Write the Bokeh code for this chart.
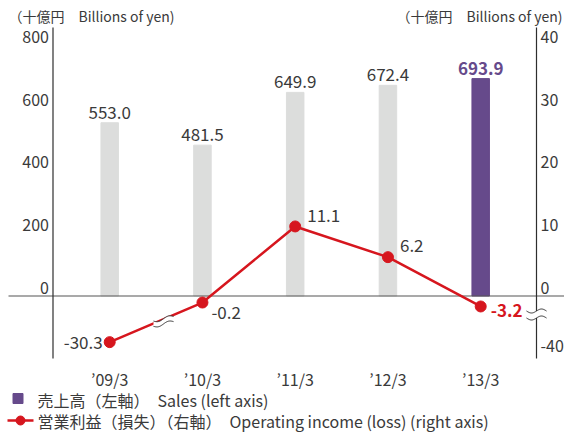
import numpy as np
from bokeh.plotting import figure
from bokeh.models import (Range1d, LinearAxis, FixedTicker, Label, ColumnDataSource)
from bokeh.core.properties import value, field
from bokeh.embed import file_html
from bokeh.resources import INLINE

# ---------------- data ----------------
years = ["’09/3", "’10/3", "’11/3", "’12/3", "’13/3"]
sales = [553.0, 481.5, 649.9, 672.4, 693.9]            # billions of yen (left axis)
op_income = [-30.3, -0.2, 11.1, 6.2, -3.2]             # billions of yen (right axis)
left_ticks = [0, 200, 400, 600, 800]
right_ticks = [-40, 0, 10, 20, 30, 40]
bar_colors = ["#dcdddc", "#dcdddc", "#dcdddc", "#dcdddc", "#664a8b"]
legend_labels = ["売上高（左軸）　Sales (left axis)",
                 "営業利益（損失）（右軸）　Operating income (loss) (right axis)"]
unit_title = "（十億円　Billions of yen)"

# ---------------- style / layout ----------------
FONT = "Noto Sans CJK JP"
TEXT = "#3a3a3a"
RED = "#d6161e"
PURPLE = "#664a8b"
AX = "#2e2e2e"

W, H = 564, 432
S = 0.3133            # px per sales unit
ZERO = 295.5          # zero line, px from top of figure
CAT0, STEP = 109.2, 92.75
RATIO = 20.0          # left units per right unit
LBL_SHIFT_PX = 8.5    # axis labels sit slightly above their values

y0 = -(H - ZERO) / S
y1 = ZERO / S
x0 = -CAT0 / STEP
x1 = (W - CAT0) / STEP


def px2x(px):
    return (px - CAT0) / STEP


def py2y(py):
    return (ZERO - py) / S


def right_disp(v):
    """broken right scale: negatives are compressed below the break"""
    v = np.asarray(v, dtype=float)
    return np.where(v >= 0, v, -(1.0 + 0.21 * np.abs(v)))


p = figure(width=W, height=H, x_range=Range1d(x0, x1), y_range=Range1d(y0, y1),
           output_backend="svg", toolbar_location=None, min_border=0,
           outline_line_color=None, background_fill_color="white")
p.extra_y_ranges = {"right": Range1d(y0 / RATIO, y1 / RATIO)}
p.xgrid.visible = False
p.ygrid.visible = False

X_LEFT = px2x(52.5)
X_RIGHT = px2x(536.0)
AX_TOP = py2y(27)
AX_BOT = py2y(358)

# left axis
sh_l = LBL_SHIFT_PX / S
lt = [t + sh_l for t in left_ticks]
ya = p.yaxis[0]
ya.fixed_location = X_LEFT
ya.ticker = FixedTicker(ticks=lt)
ya.major_label_overrides = {k: str(t) for k, t in zip(lt, left_ticks)}
ya.axis_line_color = None
ya.major_tick_line_color = None
ya.minor_tick_line_color = None
ya.major_tick_out = 0
ya.major_tick_in = 0
ya.major_label_standoff = 4
ya.major_label_text_font = FONT
ya.major_label_text_font_size = "16px"
ya.major_label_text_color = TEXT

# right axis
sh_r = LBL_SHIFT_PX / (S * RATIO)
rt = [float(right_disp(t)) + sh_r for t in right_ticks]
ra = LinearAxis(y_range_name="right", fixed_location=X_RIGHT,
                ticker=FixedTicker(ticks=rt),
                major_label_overrides={k: str(t) for k, t in zip(rt, right_ticks)},
                axis_line_color=None, major_tick_line_color=None,
                minor_tick_line_color=None, major_tick_out=0, major_tick_in=0,
                major_label_standoff=4,
                major_label_text_font=FONT, major_label_text_font_size="16px",
                major_label_text_color=TEXT)
p.add_layout(ra, "right")

# category axis
xa = p.xaxis[0]
xa.fixed_location = py2y(366)
xa.ticker = FixedTicker(ticks=list(range(len(years))))
xa.major_label_overrides = {i: y for i, y in enumerate(years)}
xa.axis_line_color = None
xa.major_tick_line_color = None
xa.minor_tick_line_color = None
xa.major_tick_out = 0
xa.major_tick_in = 0
xa.major_label_standoff = 0
xa.major_label_text_font = FONT
xa.major_label_text_font_size = "16px"
xa.major_label_text_color = TEXT

idx = list(range(len(years)))

# bars
bar_src = ColumnDataSource(dict(
    x=idx, top=sales, color=bar_colors,
    label=[f"{v:.1f}" for v in sales],
    tcolor=[TEXT] * 4 + [PURPLE],
    style=["normal"] * 4 + ["bold"],
))
p.vbar(x="x", top="top", width=17.5 / STEP, color=field("color"), source=bar_src)
p.text(x="x", y="top", text="label", source=bar_src, text_align="center",
       text_baseline="bottom", y_offset=-4, text_font=value(FONT),
       text_font_size=value("17px"), text_color=field("tcolor"),
       text_font_style=field("style"))

# zero line
p.segment(x0=[px2x(8)], y0=[0], x1=[px2x(W)], y1=[0],
          line_color="#555555", line_width=1.2)

# operating income line
disp = right_disp(op_income)
line_src = ColumnDataSource(dict(
    x=idx, y=disp, label=[f"{v:.1f}" for v in op_income],
    align=["right", "left", "left", "left", "left"],
    dx=[-7, 9, 12, 12, 10], dy=[0, 10, -11, -12, 4],
    tcolor=[TEXT] * 4 + [RED], style=["normal"] * 4 + ["bold"],
))
p.line(x="x", y="y", source=line_src, y_range_name="right",
       line_color=RED, line_width=2.5)
p.scatter(x="x", y="y", source=line_src, y_range_name="right",
          size=11, color=RED)
p.text(x="x", y="y", text="label", source=line_src, y_range_name="right",
       text_align=field("align"), text_baseline="middle",
       x_offset=field("dx"), y_offset=field("dy"), text_font=value(FONT),
       text_font_size=value("17px"), text_color=field("tcolor"),
       text_font_style=field("style"))

# break marks on the line (between first two points)
t = 0.58
cx = idx[0] + t * (idx[1] - idx[0])
cy = disp[0] + t * (disp[1] - disp[0]) - 0.35
slope = (disp[1] - disp[0]) / (idx[1] - idx[0])
hw = 10.0 / STEP
wx = np.linspace(cx - hw, cx + hw, 40)
amp = 1.6 / (S * RATIO)
gap = 2.6 / (S * RATIO)
base = cy + 0.55 * slope * (wx - cx) + amp * np.sin(2 * np.pi * (wx - cx) / (2 * hw))
p.varea(x=wx, y1=base - gap, y2=base + gap, fill_color="white", y_range_name="right")
p.line(x=wx, y=base + gap, line_color=AX, line_width=1, y_range_name="right")
p.line(x=wx, y=base - gap, line_color=AX, line_width=1, y_range_name="right")

# axis lines (right one broken)
brk_hi = py2y(310.5)
brk_lo = py2y(317.5)
p.segment(x0=[X_LEFT, X_RIGHT, X_RIGHT], y0=[AX_TOP, AX_TOP, brk_lo],
          x1=[X_LEFT, X_RIGHT, X_RIGHT], y1=[AX_BOT, brk_hi, AX_BOT],
          line_color=AX, line_width=1.2)
rhw = 10.0 / STEP
rx = np.linspace(X_RIGHT - rhw, X_RIGHT + rhw, 40)
ramp = 2.0 / S
for yc in (brk_hi, brk_lo):
    p.line(x=rx, y=yc + ramp * np.sin(2 * np.pi * (rx - X_RIGHT) / (2 * rhw)),
           line_color=AX, line_width=1)

# axis unit titles
for xx, al in ((8, "left"), (W - 2, "right")):
    p.add_layout(Label(x=xx, y=H - 15, x_units="screen", y_units="screen",
                       text=unit_title, text_align=al,
                       text_baseline="middle", text_font=FONT,
                       text_font_size="14px", text_color=TEXT))

# legend (swatches + texts)
ROW1, ROW2 = 399, 420
p.scatter(x=[px2x(17.5)], y=[py2y(ROW1 - 1)], marker="square", size=10,
          color=PURPLE)
p.line(x=[px2x(7), px2x(33)], y=[py2y(ROW2)] * 2, line_color=RED, line_width=2.5)
p.scatter(x=[px2x(20)], y=[py2y(ROW2)], size=9, color=RED)
for lab, ry in zip(legend_labels, (ROW1, ROW2)):
    p.add_layout(Label(x=37, y=H - ry, x_units="screen", y_units="screen",
                       text=lab, text_align="left", text_baseline="middle",
                       text_font=FONT, text_font_size="16px", text_color=TEXT))

open("out.html", "w").write(file_html(p, INLINE))
